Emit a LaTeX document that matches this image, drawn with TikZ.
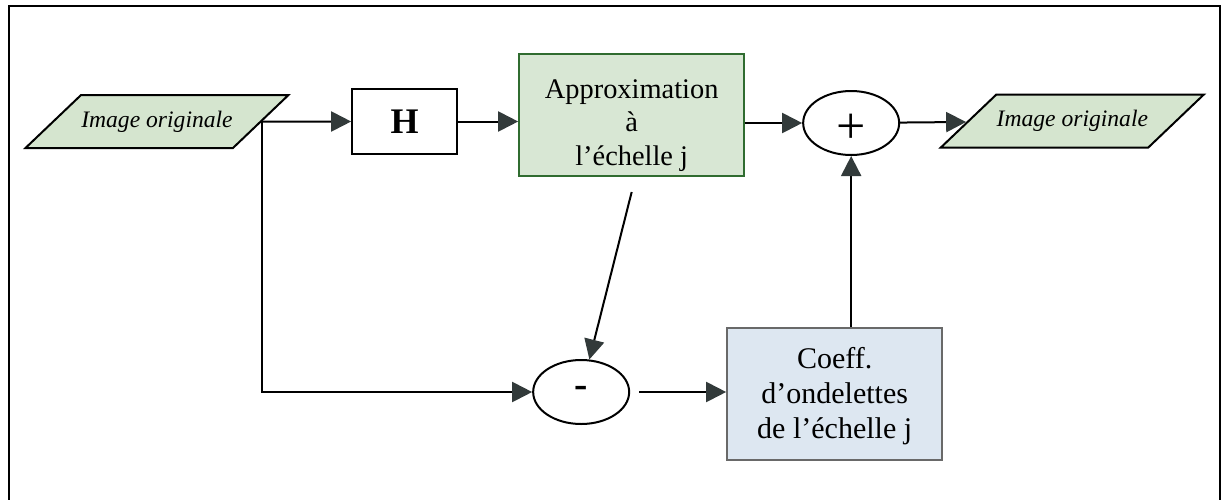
\documentclass[tikz,border=0pt]{standalone}
\usepackage{fontspec}
\setmainfont{Liberation Serif}
\usepackage{tikz}
\usetikzlibrary{shapes.geometric, arrows.meta, positioning}
\definecolor{imagecolor}{RGB}{213, 229, 207}
\definecolor{approxcolor}{RGB}{216, 231, 212}
\definecolor{approxborder}{RGB}{48, 108, 48}
\definecolor{coeffcolor}{RGB}{221, 231, 241}
\definecolor{coeffborder}{RGB}{105, 105, 105}
\definecolor{tipcolor}{RGB}{50, 58, 58}

\begin{document}
\begin{tikzpicture}[
    x=0.5pt, y=-0.5pt,
    imagebox/.style={trapezium, trapezium left angle=43, trapezium right angle=137, trapezium stretches body=true, draw, line width=1pt, fill=imagecolor, minimum width=131.5pt, minimum height=26.5pt, inner xsep=0pt, inner ysep=7.6pt, font=\fontsize{11.8}{14}\selectfont\itshape},
    filterbox/.style={draw, line width=1pt, minimum width=52.5pt, minimum height=32.5pt, inner sep=0pt, font=\fontsize{18}{20}\selectfont\bfseries},
    approxbox/.style={draw=approxborder, line width=1pt, fill=approxcolor, minimum width=112.5pt, minimum height=61pt, inner sep=0pt, align=center, text height=53pt, text depth=3pt, font=\fontsize{14.2}{16.75}\selectfont},
    coeffbox/.style={draw=coeffborder, line width=1pt, fill=coeffcolor, minimum width=107.5pt, minimum height=66pt, inner sep=0pt, align=center, text height=49pt, text depth=5pt, font=\fontsize{15}{17.5}\selectfont},
    sumnode/.style={ellipse, draw, line width=1pt, minimum width=48pt, minimum height=32pt, inner sep=0pt},
    arrow/.style={-{Triangle[length=10pt, width=10pt, color=tipcolor]}, line width=1pt},
    frame/.style={line width=1.1pt}
]
    \useasboundingbox (0,0) rectangle (1222,499);
    \draw[frame] (9,510) -- (9,6) -- (1220,6) -- (1220,510);

    % Main blocks
    \node[imagebox] (input) at (157,121.5) {Image originale};
    \node[filterbox, right=44.5pt of input] (filterH) {H};
    \node[approxbox, right=30pt of filterH, yshift=3.25pt] (approx) {Approximation\\à\\l’échelle j};
    \node[sumnode, right=28.5pt of approx, yshift=-4pt, text height=20pt, text depth=0pt, font=\fontsize{26}{26}\selectfont] (plus) {+};
    \node[imagebox, right=33.5pt of plus, yshift=1pt] (output) {Image originale};
    \node[sumnode, below=91pt of approx, xshift=-25.25pt, font=\fontsize{20}{20}\selectfont\bfseries] (minus) {-};
    \node[coeffbox, right=48pt of minus, yshift=-1pt] (coeff) {Coeff.\\d’ondelettes\\de l’échelle j};

    % Connections
    \draw[arrow] (input) -- (filterH);
    \draw[arrow] (input.east) |- (minus);
    \draw[arrow] (filterH) -- (filterH -| approx.west);
    \draw[arrow] (approx.east |- plus) -- (plus);
    \draw[arrow] (plus) -- (output);
    \draw[arrow] ([yshift=-7.5pt]approx.south) -- (minus);
    \draw[arrow] ([xshift=4.5pt]minus.east) -- (minus.east -| coeff.west);
    \draw[arrow] (coeff.north -| plus.south) -- (plus.south);

\end{tikzpicture}
\end{document}
